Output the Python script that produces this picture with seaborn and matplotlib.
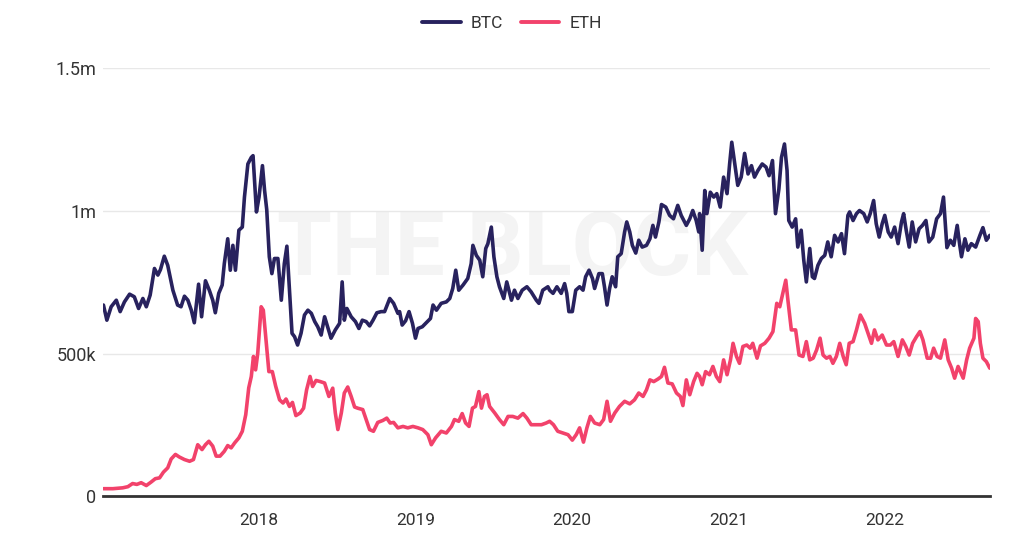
# =========================================
# BTC / ETH DAILY ACTIVE ADDRESSES CHART
# =========================================

import pandas as pd
import numpy as np

import seaborn as sns
import matplotlib.pyplot as plt
import matplotlib.dates as mdates
from matplotlib.ticker import FuncFormatter, MultipleLocator
from matplotlib.lines import Line2D


# =========================================
# DATA (values in thousands)
# =========================================

btc_dates = [
    "2017-01-03", "2017-01-11", "2017-01-21", "2017-02-02", "2017-02-11", "2017-02-21",
    "2017-03-05", "2017-03-16", "2017-03-26", "2017-04-05", "2017-04-13", "2017-04-22",
    "2017-05-02", "2017-05-10", "2017-05-16", "2017-05-25", "2017-06-02", "2017-06-14",
    "2017-06-25", "2017-07-03", "2017-07-11", "2017-07-19", "2017-07-27", "2017-08-03",
    "2017-08-13", "2017-08-20", "2017-08-29", "2017-09-07", "2017-09-15", "2017-09-21",
    "2017-09-29", "2017-10-07", "2017-10-12", "2017-10-20", "2017-10-26", "2017-11-01",
    "2017-11-07", "2017-11-15", "2017-11-23", "2017-11-28", "2017-12-06", "2017-12-14",
    "2017-12-18", "2017-12-26", "2018-01-01", "2018-01-09", "2018-01-14", "2018-01-19",
    "2018-01-25", "2018-01-31", "2018-02-06", "2018-02-14", "2018-02-22", "2018-03-01",
    "2018-03-07", "2018-03-13", "2018-03-19", "2018-03-25", "2018-04-01", "2018-04-09",
    "2018-04-17", "2018-04-25", "2018-05-03", "2018-05-11", "2018-05-18", "2018-05-26",
    "2018-06-03", "2018-06-10", "2018-06-18", "2018-06-28", "2018-07-08", "2018-07-14",
    "2018-07-19", "2018-07-25", "2018-08-04", "2018-08-14", "2018-08-22", "2018-08-30",
    "2018-09-08", "2018-09-16", "2018-09-24", "2018-10-03", "2018-10-13", "2018-10-21",
    "2018-11-02", "2018-11-11", "2018-11-21", "2018-11-25", "2018-12-01", "2018-12-09",
    "2018-12-17", "2018-12-25", "2019-01-01", "2019-01-07", "2019-01-17", "2019-01-26",
    "2019-02-05", "2019-02-11", "2019-02-19", "2019-03-02", "2019-03-14", "2019-03-22",
    "2019-03-29", "2019-04-05", "2019-04-12", "2019-04-22", "2019-05-03", "2019-05-11",
    "2019-05-15", "2019-05-23", "2019-05-31", "2019-06-07", "2019-06-14", "2019-06-19",
    "2019-06-27", "2019-07-03", "2019-07-10", "2019-07-16", "2019-07-26", "2019-08-02",
    "2019-08-13", "2019-08-20", "2019-08-28", "2019-09-07", "2019-09-18", "2019-09-28",
    "2019-10-10", "2019-10-16", "2019-10-25", "2019-11-06", "2019-11-10", "2019-11-18",
    "2019-11-27", "2019-12-07", "2019-12-15", "2019-12-20", "2019-12-25", "2020-01-02",
    "2020-01-10", "2020-01-19", "2020-01-27", "2020-02-02", "2020-02-10", "2020-02-18",
    "2020-02-23", "2020-03-04", "2020-03-12", "2020-03-17", "2020-03-23", "2020-03-29",
    "2020-04-04", "2020-04-12", "2020-04-17", "2020-04-25", "2020-05-03", "2020-05-08",
    "2020-05-15", "2020-05-21", "2020-05-29", "2020-06-05", "2020-06-13", "2020-06-23",
    "2020-07-01", "2020-07-08", "2020-07-14", "2020-07-22", "2020-07-28", "2020-08-07",
    "2020-08-16", "2020-08-25", "2020-09-04", "2020-09-12", "2020-09-24", "2020-10-02",
    "2020-10-09", "2020-10-17", "2020-10-23", "2020-10-25", "2020-10-31", "2020-11-06",
    "2020-11-11", "2020-11-19", "2020-11-27", "2020-12-04", "2020-12-12", "2020-12-20",
    "2020-12-28", "2021-01-03", "2021-01-08", "2021-01-15", "2021-01-22", "2021-01-30",
    "2021-02-07", "2021-02-15", "2021-02-23", "2021-03-02", "2021-03-10", "2021-03-20",
    "2021-03-29", "2021-04-05", "2021-04-13", "2021-04-20", "2021-04-28", "2021-05-04",
    "2021-05-11", "2021-05-17", "2021-05-21", "2021-05-29", "2021-06-06", "2021-06-11",
    "2021-06-19", "2021-06-25", "2021-07-01", "2021-07-09", "2021-07-15", "2021-07-20",
    "2021-07-28", "2021-08-05", "2021-08-13", "2021-08-20", "2021-08-28", "2021-09-05",
    "2021-09-13", "2021-09-21", "2021-09-28", "2021-10-06", "2021-10-10", "2021-10-18",
    "2021-10-26", "2021-11-02", "2021-11-12", "2021-11-20", "2021-11-27", "2021-12-05",
    "2021-12-11", "2021-12-18", "2021-12-25", "2021-12-31", "2022-01-08", "2022-01-15",
    "2022-01-23", "2022-01-31", "2022-02-08", "2022-02-13", "2022-02-19", "2022-02-26",
    "2022-03-05", "2022-03-13", "2022-03-21", "2022-03-29", "2022-04-06", "2022-04-13",
    "2022-04-22", "2022-05-01", "2022-05-10", "2022-05-17", "2022-05-25", "2022-06-02",
    "2022-06-10", "2022-06-18", "2022-06-24", "2022-06-28", "2022-07-06", "2022-07-13",
    "2022-07-21", "2022-07-31", "2022-08-10", "2022-08-17", "2022-08-25", "2022-09-02",
]

btc_values = [
    670, 617, 664, 687, 647, 681,
    708, 699, 658, 693, 664, 705,
    798, 775, 794, 841, 809, 722,
    670, 664, 701, 687, 652, 608,
    743, 629, 755, 722, 687, 643,
    711, 740, 815, 902, 792, 879,
    792, 932, 943, 1048, 1164, 1187,
    1193, 996, 1048, 1158, 1071, 1004,
    839, 780, 833, 833, 687, 815,
    876, 722, 571, 559, 530, 571,
    635, 652, 641, 612, 594, 565,
    629, 594, 554, 583, 606, 751,
    617, 658, 629, 612, 588, 617,
    612, 597, 617, 643, 647, 647,
    693, 676, 641, 647, 600, 615,
    647, 606, 554, 588, 594, 608,
    623, 670, 652, 676, 681, 693,
    728, 792, 722, 740, 763, 815,
    879, 844, 827, 769, 868, 885,
    943, 839, 769, 734, 693, 751,
    687, 722, 693, 722, 734, 716,
    687, 676, 722, 734, 722, 711,
    734, 711, 745, 711, 647, 647,
    722, 734, 722, 769, 792, 763,
    728, 780, 780, 734, 670, 728,
    769, 734, 839, 850, 926, 961,
    926, 879, 852, 897, 873, 879,
    902, 949, 908, 961, 1022, 1013,
    984, 972, 1019, 984, 949, 972,
    1001, 966, 926, 990, 862, 1071,
    990, 1065, 1048, 1060, 1013, 1118,
    1060, 1164, 1240, 1164, 1089, 1118,
    1201, 1129, 1158, 1118, 1141, 1164,
    1153, 1123, 1176, 990, 1077, 1187,
    1234, 1141, 966, 943, 972, 873,
    932, 827, 751, 868, 769, 763,
    809, 833, 844, 891, 839, 914,
    891, 920, 850, 984, 996, 966,
    990, 1001, 990, 961, 990, 1036,
    955, 908, 955, 984, 926, 908,
    943, 885, 961, 990, 932, 873,
    961, 891, 937, 949, 966, 891,
    908, 972, 990, 1048, 871, 897,
    879, 949, 879, 839, 902, 862,
    885, 873, 914, 941, 897, 914,
]

eth_dates = [
    "2017-01-03", "2017-01-25", "2017-02-17", "2017-03-01", "2017-03-12", "2017-03-22",
    "2017-04-01", "2017-04-13", "2017-04-24", "2017-05-04", "2017-05-14", "2017-05-23",
    "2017-06-02", "2017-06-10", "2017-06-20", "2017-06-29", "2017-07-11", "2017-07-23",
    "2017-08-01", "2017-08-11", "2017-08-21", "2017-08-29", "2017-09-06", "2017-09-15",
    "2017-09-23", "2017-10-02", "2017-10-12", "2017-10-20", "2017-10-28", "2017-11-05",
    "2017-11-15", "2017-11-23", "2017-12-01", "2017-12-08", "2017-12-14",
    "2017-12-19", "2017-12-24", "2017-12-29", "2018-01-06", "2018-01-11", "2018-01-18",
    "2018-01-24", "2018-02-01", "2018-02-09", "2018-02-18", "2018-02-26", "2018-03-05",
    "2018-03-13", "2018-03-20", "2018-03-28", "2018-04-07", "2018-04-15", "2018-04-22",
    "2018-04-30", "2018-05-06", "2018-05-14", "2018-05-24", "2018-06-03", "2018-06-13",
    "2018-06-22", "2018-06-28", "2018-07-04", "2018-07-12", "2018-07-19", "2018-07-27",
    "2018-08-04", "2018-08-12", "2018-08-19", "2018-08-31", "2018-09-08", "2018-09-16",
    "2018-09-25", "2018-10-05", "2018-10-17", "2018-10-26", "2018-11-03", "2018-11-11",
    "2018-11-21", "2018-12-03", "2018-12-14", "2018-12-26", "2019-01-07", "2019-01-18",
    "2019-01-30", "2019-02-07", "2019-02-17", "2019-03-02", "2019-03-14", "2019-03-26",
    "2019-04-02", "2019-04-12", "2019-04-20", "2019-04-28", "2019-05-06", "2019-05-14",
    "2019-05-21", "2019-05-29", "2019-06-04", "2019-06-11", "2019-06-17", "2019-06-23",
    "2019-07-05", "2019-07-16", "2019-07-26", "2019-08-05", "2019-08-16", "2019-08-28",
    "2019-09-09", "2019-09-18", "2019-09-28", "2019-10-10", "2019-10-22", "2019-11-02",
    "2019-11-10", "2019-11-19", "2019-11-29", "2019-12-11", "2019-12-23", "2020-01-02",
    "2020-01-11", "2020-01-19", "2020-01-28", "2020-02-05", "2020-02-13", "2020-02-23",
    "2020-03-06", "2020-03-15", "2020-03-23", "2020-03-31", "2020-04-10", "2020-04-21",
    "2020-05-03", "2020-05-15", "2020-05-26", "2020-06-05", "2020-06-15", "2020-06-23",
    "2020-07-01", "2020-07-10", "2020-07-20", "2020-07-28", "2020-08-04", "2020-08-12",
    "2020-08-22", "2020-09-01", "2020-09-10", "2020-09-16", "2020-09-24", "2020-10-02",
    "2020-10-11", "2020-10-19", "2020-10-25", "2020-10-31", "2020-11-08", "2020-11-17",
    "2020-11-25", "2020-12-03", "2020-12-11", "2020-12-20", "2020-12-28", "2021-01-05",
    "2021-01-11", "2021-01-19", "2021-01-26", "2021-02-03", "2021-02-12", "2021-02-20",
    "2021-02-26", "2021-03-08", "2021-03-16", "2021-03-26", "2021-04-05", "2021-04-14",
    "2021-04-23", "2021-04-30", "2021-05-07", "2021-05-14", "2021-05-19", "2021-05-27",
    "2021-06-06", "2021-06-14", "2021-06-23", "2021-07-01", "2021-07-09", "2021-07-17",
    "2021-07-25", "2021-08-02", "2021-08-09", "2021-08-17", "2021-08-25", "2021-09-01",
    "2021-09-09", "2021-09-17", "2021-09-25", "2021-10-02", "2021-10-09", "2021-10-18",
    "2021-10-26", "2021-11-04", "2021-11-14", "2021-11-22", "2021-11-30", "2021-12-07",
    "2021-12-15", "2021-12-25", "2022-01-04", "2022-01-13", "2022-01-21", "2022-01-31",
    "2022-02-10", "2022-02-18", "2022-02-26", "2022-03-06", "2022-03-15", "2022-03-23",
    "2022-03-30", "2022-04-09", "2022-04-17", "2022-04-24", "2022-05-02", "2022-05-10",
    "2022-05-20", "2022-05-28", "2022-06-05", "2022-06-12", "2022-06-20", "2022-07-02",
    "2022-07-10", "2022-07-17", "2022-07-27", "2022-07-31", "2022-08-06", "2022-08-11",
    "2022-08-17", "2022-08-25", "2022-09-02",
]

eth_values = [
    27, 27, 30, 34, 45, 42,
    48, 38, 50, 62, 65, 85,
    100, 131, 147, 138, 129, 123,
    129, 181, 164, 181, 193, 176,
    141, 141, 158, 178, 170, 187,
    205, 228, 286, 380, 420,
    490, 443, 501, 664, 652, 536,
    437, 437, 385, 338, 327, 341,
    315, 329, 283, 292, 309, 373,
    420, 385, 406, 402, 397, 350,
    379, 292, 234, 292, 362, 383,
    350, 313, 309, 304, 269, 234,
    228, 259, 266, 274, 257, 259,
    240, 245, 240, 245, 240, 234,
    216, 181, 205, 228, 222, 245,
    269, 263, 290, 257, 245, 309,
    315, 367, 309, 350, 356, 315,
    292, 269, 251, 280, 280, 274,
    290, 274, 251, 251, 251, 257,
    263, 251, 228, 222, 216, 197,
    216, 240, 190, 240, 280, 257,
    251, 269, 333, 263, 292, 315,
    333, 324, 338, 362, 350, 373,
    408, 402, 411, 420, 452, 397,
    394, 362, 350, 318, 408, 356,
    402, 431, 420, 391, 437, 426,
    455, 420, 402, 478, 426, 478,
    536, 490, 466, 525, 530, 519,
    536, 484, 527, 536, 554, 577,
    676, 664, 711, 757, 687, 583,
    583, 495, 490, 542, 478, 484,
    513, 554, 495, 484, 490, 466,
    490, 536, 490, 461, 536, 542,
    583, 635, 606, 571, 536, 583,
    548, 565, 530, 530, 542, 490,
    548, 525, 495, 536, 559, 577,
    548, 484, 484, 519, 490, 484,
    548, 478, 449, 414, 455, 414,
    478, 519, 554, 623, 612, 536,
    484, 472, 449,
]

series_names = ["BTC", "ETH"]
series_colors = ["#28225e", "#f2426b"]


# =========================================
# BUILD LONG DATAFRAME
# =========================================

btc_df = pd.DataFrame({
    "date": pd.to_datetime(btc_dates),
    "value": np.array(btc_values) * 1000,
    "coin": "BTC"
})

eth_df = pd.DataFrame({
    "date": pd.to_datetime(eth_dates),
    "value": np.array(eth_values) * 1000,
    "coin": "ETH"
})

df = pd.concat([btc_df, eth_df], ignore_index=True)


# =========================================
# PLOT
# =========================================

sns.set_style("white")
plt.rcParams['font.family'] = ['Roboto', 'DejaVu Sans']

fig = plt.figure(figsize=(10.24, 5.44), dpi=100)
ax = fig.add_axes([0.1006, 0.0875, 0.8664, 0.7875])

sns.lineplot(
    data=df,
    x="date",
    y="value",
    hue="coin",
    palette=dict(zip(series_names, series_colors)),
    linewidth=2.6,
    legend=False,
    ax=ax
)

# watermark
ax.text(
    0.5, 0.54, "THE BLOCK",
    transform=fig.transFigure,
    ha="center", va="center",
    fontsize=64, fontweight="bold",
    color="#f4f4f4", zorder=0
)

ax.set_xlim(pd.Timestamp("2017-01-02"), pd.Timestamp("2022-09-03"))
ax.set_ylim(0, 1500000)

ax.yaxis.set_major_locator(MultipleLocator(500000))


def fmt_y(v, pos):
    if v == 0:
        return "0"
    if v >= 1000000:
        return "{:g}m".format(v / 1000000)
    return "{:g}k".format(v / 1000)


ax.yaxis.set_major_formatter(FuncFormatter(fmt_y))

ax.xaxis.set_major_locator(mdates.YearLocator())
ax.xaxis.set_major_formatter(mdates.DateFormatter("%Y"))

ax.grid(axis="y", color="#e8e8e8", linewidth=1)
ax.grid(axis="x", visible=False)
ax.set_axisbelow(True)

for side in ["top", "right", "left"]:
    ax.spines[side].set_visible(False)

ax.spines["bottom"].set_color("#333333")
ax.spines["bottom"].set_linewidth(2)

ax.tick_params(axis="y", length=0, pad=5, labelsize=13, labelcolor="#333333")
ax.tick_params(axis="x", length=0, pad=12, labelsize=12.5, labelcolor="#333333")

ax.set_xlabel("")
ax.set_ylabel("")

handles = [
    Line2D([0], [0], color=c, linewidth=2.8) for c in series_colors
]

fig.legend(
    handles,
    series_names,
    loc="upper center",
    bbox_to_anchor=(0.5, 1.0),
    ncol=2,
    frameon=False,
    fontsize=12.5,
    handlelength=2.2,
    columnspacing=1.0,
    handletextpad=0.6,
    labelcolor="#333333"
)

plt.savefig("out.png", dpi=100)
